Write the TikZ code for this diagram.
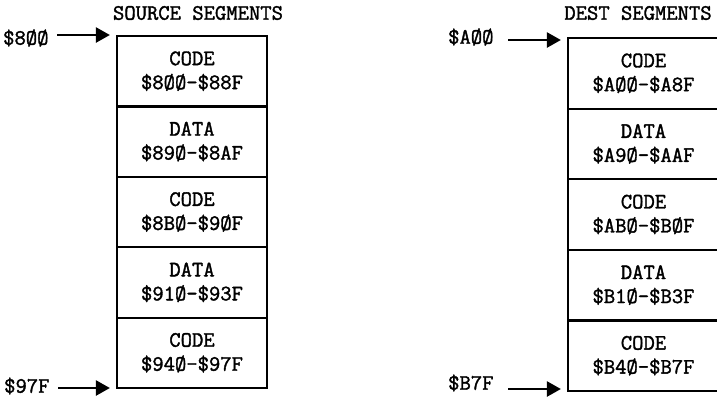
\documentclass[tikz,border=0pt]{standalone}
\usepackage{fontspec}
\newfontfamily\typew{Latin Modern Mono}[FakeBold=1.6]
\usetikzlibrary{arrows.meta}
\begin{document}
\begin{tikzpicture}[x=1pt,y=-1pt,
  tt/.style={font=\typew\fontsize{22}{24}\selectfont, inner sep=0pt},
  seg/.style={tt, draw, line width=2.2pt, minimum width=150pt, minimum height=70.4pt, align=center},
  rseg/.style={seg, minimum width=151pt, minimum height=70.6pt},
  arr/.style={-{Triangle[length=14pt,width=15pt]}, line width=2.4pt, shorten >=6pt}]
\useasboundingbox (0,0) rectangle (717,400);
\clip (0,0) rectangle (717,400);
% titles
\node[tt] (tsrc) at (198,13) {SOURCE SEGMENTS};
\node[tt] (tdst) at (638,13) {DEST SEGMENTS};
% source column
\node[seg] (s1) at (192,71.2) {CODE\\\$8ØØ-\$88F};
\node[seg] (s2) at (192,141.6) {DATA\\\$89Ø-\$8AF};
\node[seg] (s3) at (192,212.0) {CODE\\\$8BØ-\$9ØF};
\node[seg] (s4) at (192,282.4) {DATA\\\$91Ø-\$93F};
\node[seg] (s5) at (192,352.8) {CODE\\\$94Ø-\$97F};
% dest column
\node[rseg] (d1) at (643.5,73.3) {CODE\\\$AØØ-\$A8F};
\node[rseg] (d2) at (643.5,143.9) {DATA\\\$A9Ø-\$AAF};
\node[rseg] (d3) at (643.5,214.5) {CODE\\\$ABØ-\$BØF};
\node[rseg] (d4) at (643.5,285.1) {DATA\\\$B1Ø-\$B3F};
\node[rseg] (d5) at (643.5,355.7) {CODE\\\$B4Ø-\$B7F};
% address labels
\node[tt, anchor=west] (l1) at (3,38) {\$8ØØ};
\node[tt, anchor=west] (l2) at (4,386) {\$97F};
\node[tt, anchor=west] (l3) at (448,37) {\$AØØ};
\node[tt, anchor=west] (l4) at (448,383) {\$B7F};
\coordinate (c1) at (57,35);
\coordinate (c2) at (58,388);
\coordinate (c3) at (508,40);
\coordinate (c4) at (508,389);
\draw[arr] (c1) -- (c1 -| s1.west);
\draw[arr] (c2) -- (c2 -| s5.west);
\draw[arr] (c3) -- (c3 -| d1.west);
\draw[arr] (c4) -- (c4 -| d5.west);
\end{tikzpicture}
\end{document}
